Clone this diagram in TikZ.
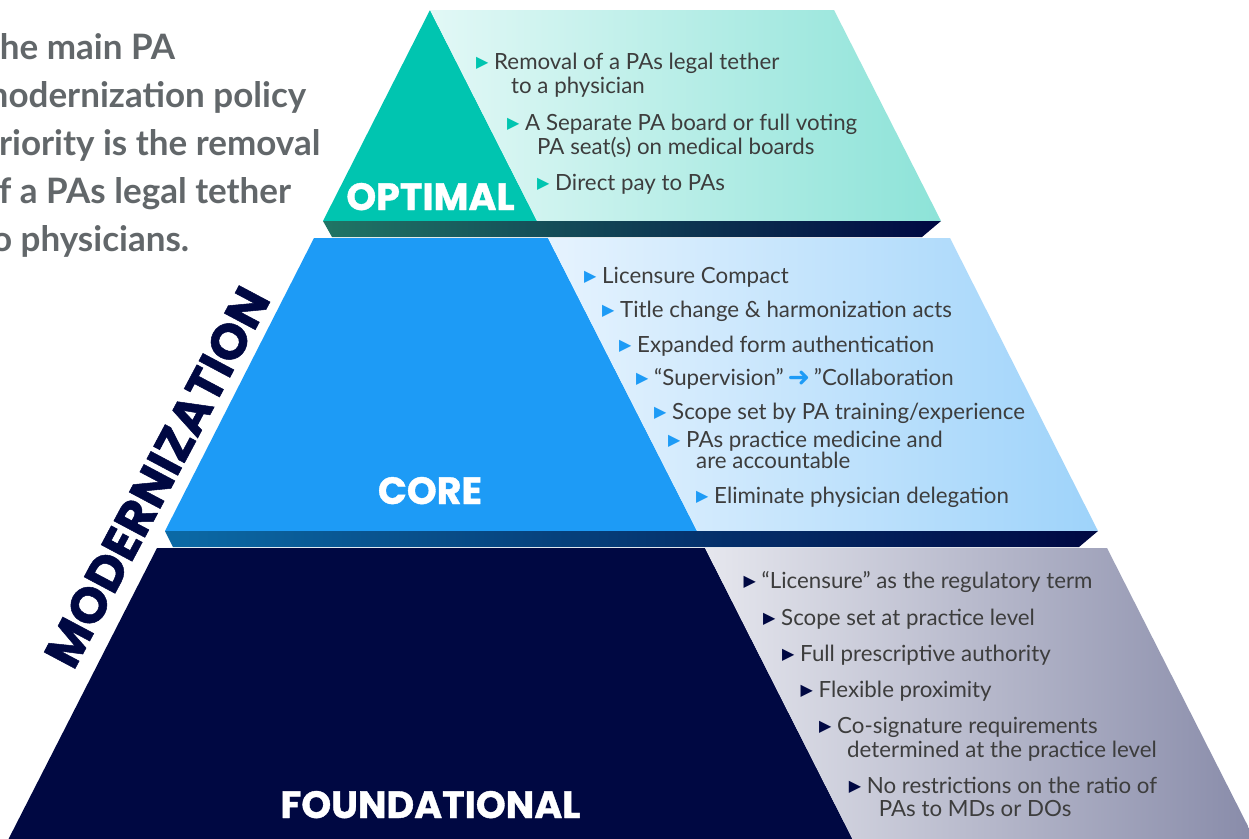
\documentclass[tikz,border=0pt]{standalone}
\usepackage{fontspec}
\setmainfont{Lato}
\newfontfamily\poppins[BoldFeatures={FakeBold=1}]{Poppins}
\newfontfamily\symfont{DejaVu Sans}
\usepackage{tikz}
\usetikzlibrary{calc}
\definecolor{navybase}{HTML}{000842}
\definecolor{tealtop}{HTML}{00C5B0}
\definecolor{bluecore}{HTML}{1D9BF6}
\definecolor{bodytext}{HTML}{3D3D3D}
\definecolor{leadgrey}{HTML}{62676A}
\definecolor{optlight}{HTML}{E2F8F6}
\definecolor{optmid}{HTML}{C6F0EA}
\definecolor{optdark}{HTML}{8DE3D8}
\definecolor{corelight}{HTML}{E6F3FE}
\definecolor{coremid}{HTML}{CFE8FD}
\definecolor{coredark}{HTML}{9ED3FA}
\definecolor{fndlight}{HTML}{E6E7EE}
\definecolor{fndmid}{HTML}{CDCEDB}
\definecolor{fnddark}{HTML}{888BA9}
\definecolor{optledge}{HTML}{207565}
\definecolor{optledgemid}{HTML}{124A5E}
\definecolor{coreledge}{HTML}{0B6AA6}
\definecolor{coreledgemid}{HTML}{053572}
\tikzset{
  tier_title/.style={text=white,inner sep=0pt,anchor=base,
    font=\poppins\bfseries\fontsize{38}{38}\selectfont},
  item/.style={anchor=base west,inner sep=0pt,align=left,text=bodytext,
    font=\fontsize{22.3}{24}\selectfont},
  lead_text/.style={anchor=base west,inner sep=0pt,align=left,text=leadgrey,
    font=\bfseries\fontsize{35}{47.8}\selectfont},
  side_label/.style={text=navybase,inner sep=0pt,
    font=\poppins\bfseries\fontsize{50}{50}\selectfont},
}
\newcommand{\tri}[1]{{\color{#1}\symfont\fontsize{16}{16}\selectfont\raisebox{1.5pt}{▶}}\hspace{5.7pt}}
\newcommand{\harrow}{{\color{bluecore}\symfont\bfseries\fontsize{27}{27}\selectfont\raisebox{-1pt}{➜}}}

\begin{document}
\begin{tikzpicture}[x=1pt,y=-1pt]
  \useasboundingbox (0,0) rectangle (1249,838);
  \fill[white] (0,0) rectangle (1249,838);
  \clip (0,0) rectangle (1249,838);

  % optimal tier
  \coordinate (apex) at (430,10);
  \coordinate (opt_tr) at (834,10);
  \coordinate (opt_bl) at (323,221);
  \coordinate (opt_bs) at (537,221);
  \coordinate (opt_br) at (941,221);
  \fill[tealtop] (apex) -- (opt_bs) -- (opt_bl) -- cycle;
  \shade[left color=optlight,middle color=optmid,right color=optdark]
    (apex) -- (opt_tr) -- (opt_br) -- (opt_bs) -- cycle;

  % core tier
  \coordinate (core_tl) at (314,238);
  \coordinate (core_ts) at (548,238);
  \coordinate (core_tr) at (950,238);
  \coordinate (core_br) at (1098,531);
  \coordinate (core_bs) at (697,531);
  \coordinate (core_bl) at (165,531);
  \fill[bluecore] (core_tl) -- (core_ts) -- (core_bs) -- (core_bl) -- cycle;
  \shade[left color=corelight,middle color=coremid,right color=coredark]
    (core_ts) -- (core_tr) -- (core_br) -- (core_bs) -- cycle;

  % foundational tier
  \coordinate (fnd_tl) at (157,548);
  \coordinate (fnd_ts) at (705,548);
  \coordinate (fnd_tr) at (1107,548);
  \coordinate (fnd_br) at (1256,842);
  \coordinate (fnd_bs) at (854,842);
  \coordinate (fnd_bl) at (7,842);
  \fill[navybase] (fnd_tl) -- (fnd_ts) -- (fnd_bs) -- (fnd_bl) -- cycle;
  \shade[left color=fndlight,middle color=fndmid,right color=fnddark]
    (fnd_ts) -- (fnd_tr) -- (fnd_br) -- (fnd_bs) -- cycle;

  % ledges under the upper tiers
  \shade[left color=optledge,middle color=optledgemid,right color=navybase]
    (opt_bl) -- (opt_br) -- (922,237) -- (332,237) -- cycle;
  \shade[left color=coreledge,middle color=coreledgemid,right color=navybase]
    (core_bl) -- (core_br) -- (1079,547) -- (173,547) -- cycle;

  % tier names
  \node[tier_title] (opt_title) at (430.5,210) {OPTIMAL};
  \node[tier_title] (core_title) at (430,504) {CORE};
  \node[tier_title] (fnd_title) at (430.5,818) {FOUNDATIONAL};
  \node[side_label,rotate=62] (side) at (157,477) {MODERNIZATION};

  % base anchor of a multi-line node sits on its last line
  \node[lead_text] (lead) at (-21,251) {The main PA\\modernization policy\\priority is the removal\\of a PAs legal tether\\to physicians.};

  % optimal items
  \node[item] (opt1) at (476,93) {\tri{tealtop}Removal of a PAs legal tether\\\hspace*{35pt}to a physician};
  \node[item] (opt2) at (507,154) {\tri{tealtop}A Separate PA board or full voting\\\hspace*{30pt}PA seat(s) on medical boards};
  \node[item] (opt3) at (537,190) {\tri{tealtop}Direct pay to PAs};

  % core items
  \node[item] (core1) at (584,283) {\tri{bluecore}Licensure Compact};
  \node[item] (core2) at (602,317) {\tri{bluecore}Title change \& harmonization acts};
  \node[item] (core3) at (619,352) {\tri{bluecore}Expanded form authentication};
  \node[item] (core4) at (636,385) {\tri{bluecore}“Supervision”\,\harrow\,”Collaboration};
  \node[item] (core5) at (654,419) {\tri{bluecore}Scope set by PA training/experience};
  \node[item] (core6) at (668,468.6) {\tri{bluecore}PAs practice medicine and\\[-2.4pt]\hspace*{28pt}are accountable};
  \node[item] (core7) at (696,503) {\tri{bluecore}Eliminate physician delegation};

  % foundational items
  \node[item] (fnd1) at (743.5,588) {\tri{navybase}“Licensure” as the regulatory term};
  \node[item] (fnd2) at (763,625) {\tri{navybase}Scope set at practice level};
  \node[item] (fnd3) at (782,661) {\tri{navybase}Full prescriptive authority};
  \node[item] (fnd4) at (800.5,697) {\tri{navybase}Flexible proximity};
  \node[item] (fnd5) at (819,757) {\tri{navybase}Co-signature requirements\\\hspace*{28pt}determined at the practice level};
  \node[item] (fnd6) at (848.6,816) {\tri{navybase}No restrictions on the ratio of\\[-1pt]\hspace*{30pt}PAs to MDs or DOs};
\end{tikzpicture}
\end{document}
